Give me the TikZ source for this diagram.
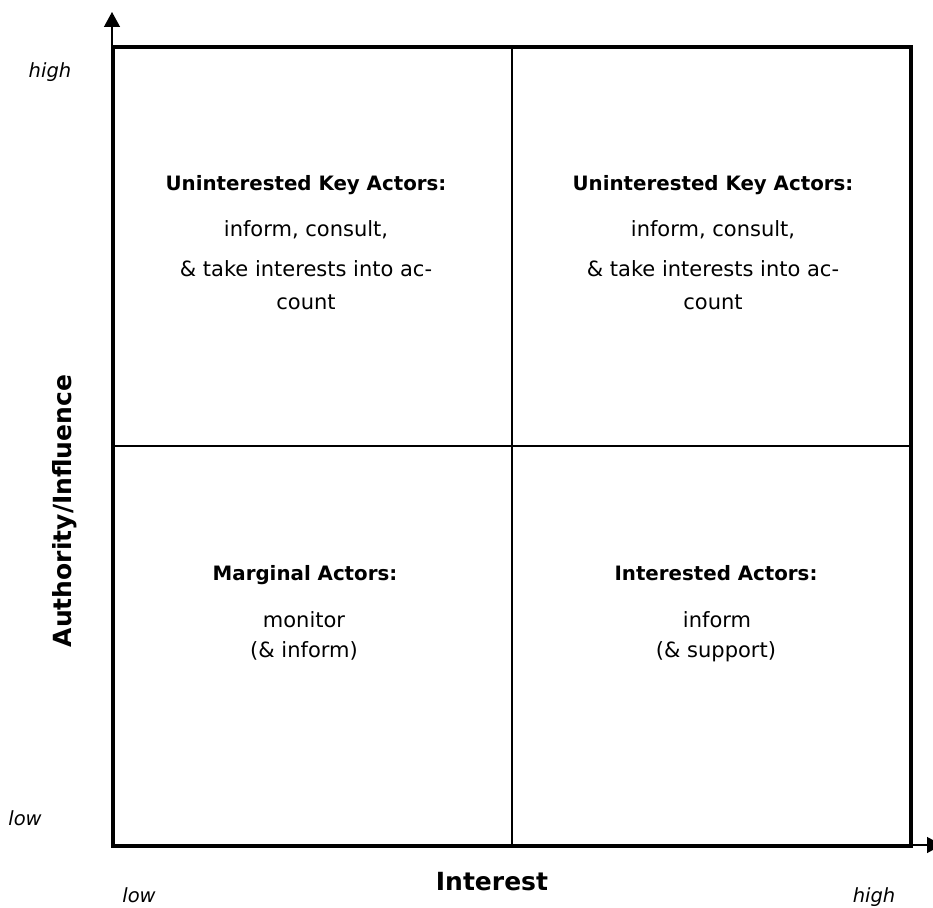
\documentclass[tikz,border=0pt]{standalone}
\usepackage{fontspec}
\setmainfont{DejaVu Sans}
\usetikzlibrary{arrows.meta}
\begin{document}
\begin{tikzpicture}[x=1pt,y=-1pt,
  title/.style={font=\fontsize{19.8}{24}\selectfont\bfseries,anchor=base,inner sep=0pt},
  body/.style={font=\fontsize{21}{24}\selectfont,anchor=base,inner sep=0pt},
  axlab/.style={font=\fontsize{25}{30}\selectfont\bfseries,anchor=base,inner sep=0pt},
  lvl/.style={font=\fontsize{19.5}{22}\selectfont\itshape,anchor=base,inner sep=0pt},
  axis/.style={line width=1.3pt,-{Triangle[length=15pt,width=16pt]}},
  frame/.style={line width=4pt},
  mid/.style={line width=1.5pt}]
\useasboundingbox (0,0) rectangle (933,907);
% corners
\coordinate (tl) at (113,47);
\coordinate (tr) at (911,47);
\coordinate (bl) at (113,846);
\coordinate (br) at (911,846);
\coordinate (mt) at (512,47);
\coordinate (mb) at (512,846);
\coordinate (ml) at (113,446);
\coordinate (mr) at (911,446);
\coordinate (ytip) at (112,12);
\coordinate (xtip) at (942,845);
\coordinate (yorg) at (112,846);
\coordinate (xorg) at (113,845);
% axes
\draw[axis] (yorg) -- (ytip);
\draw[axis] (xorg) -- (xtip);
% frame
\draw[mid] (mt) -- (mb);
\draw[mid] (ml) -- (mr);
\draw[frame,line join=miter] (tl) -- (tr) -- (br) -- (bl) -- cycle;
% quadrant TL
\node[title] (t1) at (306,190) {Uninterested Key Actors:};
\node[body] (b1a) at (306,236) {inform, consult,};
\node[body] (b1b) at (306,276) {\& take interests into ac-};
\node[body] (b1c) at (306,309) {count};
% quadrant TR
\node[title] (t2) at (713,190) {Uninterested Key Actors:};
\node[body] (b2a) at (713,236) {inform, consult,};
\node[body] (b2b) at (713,276) {\& take interests into ac-};
\node[body] (b2c) at (713,309) {count};
% quadrant BL
\node[title] (t3) at (305,580) {Marginal Actors:};
\node[body] (b3a) at (304,627) {monitor};
\node[body] (b3b) at (304,657) {(\& inform)};
% quadrant BR
\node[title] (t4) at (716,580) {Interested Actors:};
\node[body] (b4a) at (717,627) {inform};
\node[body] (b4b) at (716,657) {(\& support)};
% axis labels
\node[axlab] (xl) at (492,890) {Interest};
\node[axlab,rotate=90] (yl) at (71,511) {Authority/Influence};
\node[lvl] (yh) at (50,77) {high};
\node[lvl] (ylo) at (25,825) {low};
\node[lvl] (xlo) at (139,902) {low};
\node[lvl] (xh) at (874,902) {high};
\end{tikzpicture}
\end{document}
